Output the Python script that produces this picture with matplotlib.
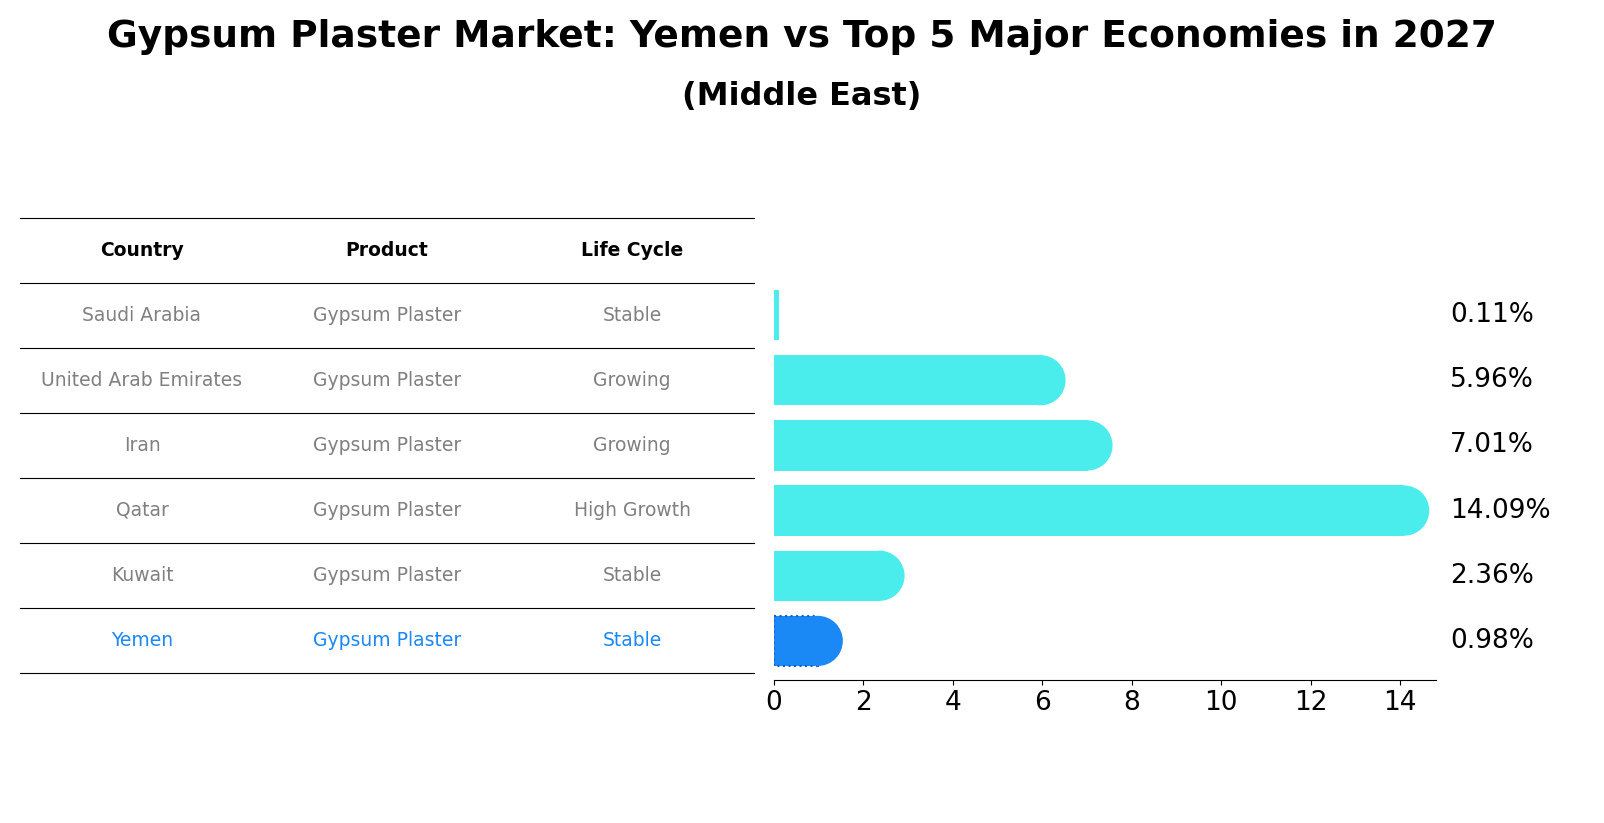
import matplotlib
matplotlib.use("Agg")
import matplotlib.pyplot as plt
from matplotlib.patches import Ellipse
from matplotlib.lines import Line2D

countries = ["Saudi Arabia", "United Arab Emirates", "Iran", "Qatar", "Kuwait", "Yemen"]
products = ["Gypsum Plaster"] * 6
life_cycle = ["Stable", "Growing", "Growing", "High Growth", "Stable", "Stable"]
values = [0.11, 5.96, 7.01, 14.09, 2.36, 0.98]
headers = ["Country", "Product", "Life Cycle"]

W, H = 1604, 823
fig = plt.figure(figsize=(W/100, H/100), dpi=100)
fig.text(0.5, 1-37/H, "Gypsum Plaster Market: Yemen vs Top 5 Major Economies in 2027",
         ha="center", va="center", fontsize=27, fontweight="bold")
fig.text(0.5, 1-97/H, "(Middle East)", ha="center", va="center", fontsize=23, fontweight="bold")

# bar axes
ax = fig.add_axes([774/W, 1-680/H, (1436-774)/W, (680-276)/H])
n = len(values)
cyan = "#4AECEC"
yemen = "#1A88F5"
bh = 0.77
radius_x = 25/((1436-774)/14.8)
for i, v in enumerate(values):
    col = yemen if countries[i] == "Yemen" else cyan
    if countries[i] == "Yemen":
        ax.barh(i, v, height=bh, color=col, edgecolor="#1565C0", linestyle=":", linewidth=1.5)
    else:
        ax.barh(i, v, height=bh, color=col, linewidth=0)
    if v > 0.5:
        ax.add_patch(Ellipse((v, i), 2*radius_x, bh, color=col, lw=0))
    ax.annotate(f"{v:.2f}%", xy=(1, i), xycoords=("axes fraction", "data"),
                xytext=(10, 0), textcoords="offset points", va="center", ha="left", fontsize=19)
ax.set_xlim(0, 14.8)
ax.set_ylim(n-1+0.6, -0.6)
ax.set_yticks([])
ax.set_xticks(range(0, 15, 2))
ax.tick_params(axis="x", labelsize=19)
for s in ["top", "right", "left"]:
    ax.spines[s].set_visible(False)

# table
xs = [142, 387, 632]
row_top = 218
rh = 65
for x, h in zip(xs, headers):
    fig.text(x/W, 1-(row_top+rh/2)/H, h, ha="center", va="center", fontsize=13.5, fontweight="bold")
for k in range(n+2):
    y = 1-(row_top+k*rh)/H
    fig.add_artist(Line2D([20/W, 754/W], [y, y], color="black", lw=0.8))
for i in range(n):
    col = yemen if countries[i] == "Yemen" else "grey"
    yc = 1-(row_top+(i+1.5)*rh)/H
    for x, t in zip(xs, [countries[i], products[i], life_cycle[i]]):
        fig.text(x/W, yc, t, ha="center", va="center", fontsize=13.5, color=col)

fig.savefig("out.png", dpi=100)
